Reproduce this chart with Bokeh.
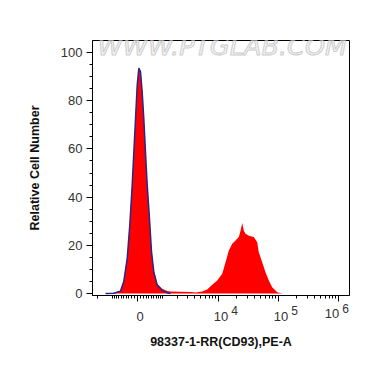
import numpy as np
from bokeh.plotting import figure
from bokeh.models import Range1d, FixedTicker, CustomJSTickFormatter, Label, LinearAxis
from bokeh.embed import file_html
from bokeh.resources import INLINE

# ---- data (fluorescence intensity, PE-A) ----
sample_x = [-1392, -943, -846, -624, -491, -362, -267, -183, -127, -68, -10, 45, 103,
            162, 218, 278, 340, 425, 502, 595, 740, 978, 1251, 1457, 2238, 3350, 4082,
            5306, 6441, 7816, 9479, 11511, 13063, 14825, 16890, 19174, 21760, 23237,
            24793, 26368, 28143, 31938, 38704, 44092, 46875, 53431, 60611, 68818,
            78407, 94998, 115113, 158241]
sample_y = [0, 0.2, 0.4, 1.2, 5.4, 15, 29, 45.6, 59, 73, 87, 94, 92.5,
            84, 73, 59, 45.6, 31.5, 18, 9.5, 4, 2, 1, 0.8, 0.7, 0.6, 0.4,
            0.8, 1.7, 3.6, 5.4, 8.2, 13, 17.8, 20.6, 22, 23.4, 26,
            29.3, 26, 24.8, 24, 23.4, 21.3, 17.1, 13, 8.8, 5.4,
            2.6, 0.5, 0, 0]

control_x = [-1392, -943, -846, -624, -491, -362, -267, -183, -127, -68, -10, 45, 103,
             162, 218, 278, 340, 425, 502, 595, 740, 978, 1251, 1457]
control_y = [0, 0.1, 0.3, 1.0, 5.0, 14.5, 28.5, 45, 58.5, 72.5, 86.5, 93.5, 92,
             83.5, 72.5, 58.5, 45, 31, 17.5, 9, 3.5, 1.2, 0.3, 0]

major_x = [0, 1e4, 1e5, 1e6]
minor_x = ([-2000, -1000] + list(range(-900, 0, 100)) + list(range(100, 1000, 100))
           + list(range(1000, 10000, 1000)) + list(range(20000, 100000, 10000))
           + list(range(200000, 1000000, 100000)))
base_labels = ["0", "10", "10"]      # for 0, 1e4, 1e5
exp_labels = ["4", "5"]              # for 1e4, 1e5
last_base, last_exp = "10", "6"      # for 1e6 (kept inside the frame)
y_major = [0, 20, 40, 60, 80, 100]
y_minor = [v for v in range(5, 105, 5) if v % 20]

x_title = "98337-1-RR(CD93),PE-A"
y_title = "Relative Cell Number"
watermark = "WWW.PTGLAB.COM"

# biexponential-like display transform
def T(x):
    return np.arcsinh(np.asarray(x, dtype=float) / 892.0) / np.log(10)

W, H = 362, 359
BL, BR, BT, BB = 92, 13, 40, 64
X0, X1 = -0.75, 3.533
px_per_unit = (W - BL - BR) / (X1 - X0)

def shifted(px):
    d = px / px_per_unit
    return Range1d(X0 - d, X1 - d)

p = figure(width=W, height=H, output_backend="svg", toolbar_location=None,
           x_range=Range1d(X0, X1), y_range=Range1d(-0.83, 105.0),
           x_axis_location=None,
           min_border_left=BL, min_border_right=BR, min_border_top=BT, min_border_bottom=BB)
p.grid.visible = False
p.outline_line_color = "black"
p.outline_line_width = 1
p.background_fill_color = "white"
p.border_fill_color = "white"
p.extra_x_ranges = {"exp": shifted(16), "exp6": shifted(7),
                    "base": shifted(2.5), "base6": shifted(-6.5)}

p.varea(x=T(sample_x), y1=np.zeros(len(sample_y)), y2=sample_y, fill_color="#ff0000")
p.line(x=T(control_x), y=control_y, line_color="#26268f", line_width=1.5)

wm = Label(x=-0.667, y=96.5, text=watermark, text_font="DejaVu Sans", text_font_size="25.5px",
           text_font_style="italic", text_color="#f5f5f5", text_outline_color="#cdcdcd",
           text_baseline="bottom")
p.add_layout(wm)

LAB = dict(major_label_text_font="Liberation Sans", major_label_text_color="#333333")
NOTICK = dict(axis_line_color=None, major_tick_line_color=None, minor_tick_line_color=None,
              major_tick_in=0, major_tick_out=0, minor_tick_in=0, minor_tick_out=0)

def fmt(labels):
    return CustomJSTickFormatter(args=dict(labels=labels), code="return labels[index];")

# main axis: line and ticks only
main = LinearAxis(ticker=FixedTicker(ticks=list(T(major_x)), minor_ticks=list(T(minor_x))),
                  formatter=CustomJSTickFormatter(code="return '';"),
                  major_label_text_font_size="1px", major_label_standoff=0,
                  axis_line_color="black", major_tick_line_color="black",
                  minor_tick_line_color="black", major_tick_in=0, major_tick_out=6,
                  minor_tick_in=0, minor_tick_out=3)
# exponents (raised)
ax_e = LinearAxis(x_range_name="exp", ticker=FixedTicker(ticks=list(T(major_x[1:3])), minor_ticks=[]),
                  formatter=fmt(exp_labels), major_label_text_font_size="12px",
                  major_label_standoff=4, **NOTICK, **LAB)
ax_e6 = LinearAxis(x_range_name="exp6", ticker=FixedTicker(ticks=[float(T(major_x[3]))], minor_ticks=[]),
                   formatter=fmt([last_exp]), major_label_text_font_size="12px",
                   major_label_standoff=-14, **NOTICK, **LAB)
# bases
ax_b = LinearAxis(x_range_name="base", ticker=FixedTicker(ticks=list(T(major_x[0:3])), minor_ticks=[]),
                  formatter=fmt(base_labels), major_label_text_font_size="13px",
                  major_label_standoff=-6, **NOTICK, **LAB)
ax_b6 = LinearAxis(x_range_name="base6", ticker=FixedTicker(ticks=[float(T(major_x[3]))], minor_ticks=[]),
                   formatter=fmt([last_base]), major_label_text_font_size="13px",
                   major_label_standoff=-15, **NOTICK, **LAB)
ax_b6.axis_label = x_title
ax_b6.axis_label_standoff = 14
ax_b6.axis_label_text_font = "Liberation Sans"
ax_b6.axis_label_text_font_size = "12.5px"
ax_b6.axis_label_text_font_style = "bold"
ax_b6.axis_label_text_color = "#111111"

for a in (main, ax_e, ax_e6, ax_b, ax_b6):
    p.add_layout(a, "below")

ya = p.yaxis[0]
ya.ticker = FixedTicker(ticks=y_major, minor_ticks=y_minor)
ya.axis_line_color = "black"
ya.major_tick_line_color = "black"
ya.minor_tick_line_color = "black"
ya.major_tick_in = 0
ya.major_tick_out = 6
ya.minor_tick_in = 0
ya.minor_tick_out = 3
ya.major_label_text_font = "Liberation Sans"
ya.major_label_text_font_size = "13px"
ya.major_label_text_color = "#333333"
ya.axis_label = y_title
ya.axis_label_text_font = "Liberation Sans"
ya.axis_label_text_font_size = "12.5px"
ya.axis_label_text_font_style = "bold"
ya.axis_label_text_color = "#111111"
ya.major_label_standoff = 4
ya.axis_label_standoff = 16

open("out.html", "w").write(file_html(p, INLINE))
